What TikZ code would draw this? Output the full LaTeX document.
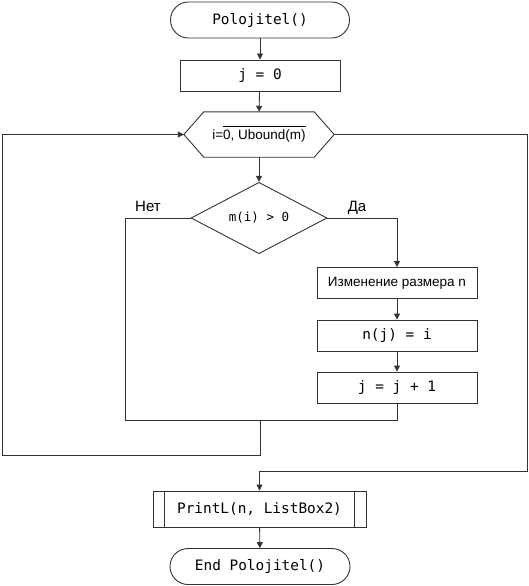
\documentclass[tikz,border=0pt]{standalone}
\usepackage{fontspec}
\setmainfont{Liberation Sans}
\newfontfamily\codefont{DejaVu Sans Mono}
\usetikzlibrary{shapes.geometric,arrows.meta}
\tikzset{
  ln/.style={draw=black!80, line width=0.9pt},
  arr/.style={ln, -{Triangle[length=6pt,width=6pt]}},
  term/.style={ln, rectangle, rounded corners=18pt, minimum width=179pt, minimum height=36pt, inner sep=0pt, font=\codefont\fontsize{14.4pt}{16pt}\selectfont},
  proc/.style={ln, rectangle, minimum width=160pt, minimum height=31pt, inner sep=0pt, font=\codefont\fontsize{14.4pt}{16pt}\selectfont},
  procru/.style={proc, font=\fontsize{13.5pt}{15pt}\selectfont},
  dec/.style={ln, diamond, minimum width=136pt, minimum height=66pt, inner sep=0pt, font=\codefont\fontsize{12.5pt}{15pt}\selectfont},
  hexbox/.style={rectangle, minimum width=150pt, minimum height=45pt, inner sep=0pt, font=\fontsize{13.5pt}{15pt}\selectfont},
  lab/.style={font=\fontsize{15pt}{17pt}\selectfont}
}
\begin{document}
\begin{tikzpicture}[x=1pt,y=-1pt]
\useasboundingbox (0,0) rectangle (529,586);
\node[term] (start) at (260,20) {Polojitel()};
\node[proc] (j0) at (260,75.5) {j = 0};
\node[hexbox] (loop) at (259,134.5) {i=\smash{$\overline{\mbox{0, Ubound(m)}\rule{0pt}{11.8pt}}$}};
\draw[ln] (loop.west) -- ([xshift=20pt]loop.north west) -- ([xshift=-20pt]loop.north east)
  -- (loop.east) -- ([xshift=-20pt]loop.south east) -- ([xshift=20pt]loop.south west) -- cycle;
\node[dec] (cond) at (259,218) {m(i) > 0};
\node[procru] (resize) at (397,283) {Изменение размера n};
\node[proc] (nj) at (397,335.5) {n(j) = i};
\node[proc] (jj) at (397,387.5) {j = j + 1};
\node[proc, minimum width=213pt, minimum height=36pt] (print) at (259.5,509) {PrintL(n, ListBox2)};
\draw[ln] ([xshift=12pt]print.north west) -- ([xshift=12pt]print.south west);
\draw[ln] ([xshift=-12pt]print.north east) -- ([xshift=-12pt]print.south east);
\node[term, minimum width=180pt] (end) at (260,566.5) {End Polojitel()};

\coordinate (yesc) at (397,218);
\coordinate (noc) at (125,218);
\coordinate (nob) at (125,420);
\coordinate (jn) at (397,420);
\coordinate (m1) at (260,420);
\coordinate (m2) at (260,455);
\coordinate (lb) at (2,455);
\coordinate (lt) at (2,134.5);
\coordinate (rt) at (527,134.5);
\coordinate (rb) at (527,471);
\coordinate (ex) at (259.5,471);

\draw[arr] (start) -- (j0);
\draw[arr] (j0) -- (loop.north);
\draw[arr] (loop.south) -- (cond.north);
\draw[arr] (cond.east) -- (yesc) -- (resize.north);
\draw[arr] (resize) -- (nj);
\draw[arr] (nj) -- (jj);
\draw[ln] (cond.west) -- (noc) -- (nob) -- (jn) -- (jj.south);
\draw[arr] (m1) -- (m2) -- (lb) -- (lt) -- (loop.west);
\draw[arr] (loop.east) -- (rt) -- (rb) -- (ex) -- (print.north);
\draw[arr] (print) -- (end);
\node[lab] (net) at (148,206) {Нет};
\node[lab] (da) at (357,208) {Да};
\end{tikzpicture}
\end{document}
